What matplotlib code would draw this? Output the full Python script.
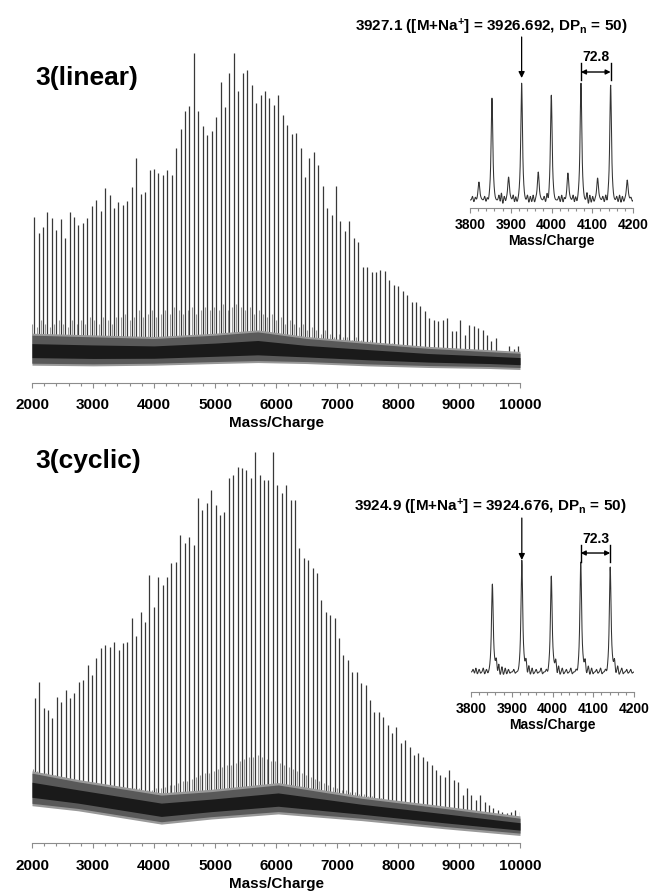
import numpy as np
import matplotlib
matplotlib.use('Agg')
import matplotlib.pyplot as plt

plt.rcParams['font.family'] = ['Liberation Sans', 'DejaVu Sans']
plt.rcParams['font.weight'] = 'bold'
plt.rcParams['mathtext.fontset'] = 'custom'
plt.rcParams['mathtext.rm'] = 'Liberation Sans:bold'
plt.rcParams['mathtext.it'] = 'Liberation Sans:bold'
plt.rcParams['mathtext.bf'] = 'Liberation Sans:bold'

# ---- 3(linear): main series, DP 24 .. 133, repeat unit 72.8
lin_first = 2033.9
lin_step = 72.8
lin_heights = [50.2, 45.5, 47.2, 52.0, 50.0, 46.5, 49.8, 44.1, 51.8, 50.3,
               48.0, 48.5, 50.0, 53.7, 55.6, 52.3, 59.1, 56.9, 53.0, 54.8,
               54.0, 55.1, 59.3, 68.2, 57.3, 57.8, 64.6, 64.8, 63.6, 63.1,
               64.6, 63.1, 71.2, 77.1, 82.5, 84.1, 100.0, 82.5, 77.8, 75.3,
               76.3, 80.8, 91.4, 83.8, 93.9, 100.0, 88.4, 93.9, 94.9, 90.4,
               84.8, 87.2, 88.6, 86.4, 84.3, 87.2, 81.3, 78.3, 75.5, 75.8,
               71.4, 62.6, 68.2, 70.2, 66.2, 59.6, 53.0, 51.0, 59.6, 49.0,
               46.0, 49.2, 43.9, 42.9, 35.1, 35.1, 33.8, 33.8, 34.3, 34.0,
               31.3, 29.8, 29.3, 27.8, 26.8, 24.7, 24.7, 23.2, 21.7, 19.7,
               19.2, 18.7, 19.2, 19.7, 15.7, 15.7, 19.2, 14.6, 17.7, 17.2,
               16.7, 16.2, 14.6, 12.6, 13.6, 9.8, 9.6, 11.1, 10.4, 11.1]
# minor series (32 Da below each main peak)
lin_minor = [18, 17, 19, 18, 17, 18, 19, 18, 17, 19, 18, 19, 18, 20, 19, 18, 20, 19, 18, 20,
             20, 21, 19, 20, 22, 20, 21, 22, 20, 21, 22, 21, 23, 22, 21, 22, 23, 21, 22, 23,
             22, 23, 22, 24, 22, 23, 24, 23, 22, 23, 21, 22, 21, 20, 21, 19, 20, 18, 19, 18,
             17, 18, 16, 17, 16, 15, 16, 15, 14, 15, 14, 14, 13, 14, 13, 12, 13, 12, 12, 12,
             11.5, 12, 11, 11.5, 11, 11, 10.5, 11, 10.5, 10, 10.5, 10, 10, 10, 9.5, 10, 9.5, 9.5, 9, 9.5,
             9, 9, 9, 8.5, 9, 8.5, 8.5, 8, 8.5, 8]
lin_band_mz = [2000, 3000, 4000, 5000, 5700, 6500, 7500, 8500, 9500, 10000]
lin_band_lo = [6.0, 5.8, 6.0, 6.5, 6.8, 6.5, 5.8, 5.3, 5.0, 4.7]
lin_band_hi = [14.5, 14.0, 13.5, 14.5, 15.5, 13.5, 12.0, 10.5, 9.5, 9.0]

# ---- 3(cyclic): main series, repeat unit 72.3
cyc_first = 2044.9
cyc_step = 72.3
cyc_heights = [37.0, 41.3, 34.5, 34.0, 31.9, 37.4, 36.2, 39.1, 37.0, 38.3,
               41.3, 41.7, 45.5, 43.0, 47.2, 49.8, 50.6, 50.2, 51.5, 49.4,
               51.1, 51.5, 57.4, 52.8, 59.1, 56.6, 68.5, 60.4, 68.1, 66.0,
               68.1, 71.5, 71.9, 78.7, 76.6, 78.3, 76.2, 88.1, 85.1, 86.8,
               90.2, 86.4, 83.8, 84.7, 93.2, 94.0, 96.2, 95.7, 95.3, 93.2,
               100.0, 94.0, 92.8, 92.8, 100.0, 91.5, 89.4, 91.5, 87.7, 87.7,
               75.3, 72.8, 72.3, 70.2, 68.9, 62.1, 59.1, 58.3, 57.4, 52.3,
               48.1, 46.8, 43.8, 43.8, 40.9, 40.4, 36.6, 33.6, 33.6, 32.3,
               30.2, 28.1, 29.8, 25.5, 26.4, 24.7, 22.6, 23.0, 22.1, 20.9,
               20.0, 18.7, 17.4, 17.0, 18.7, 16.2, 15.7, 12.3, 14.0, 12.3,
               11.1, 12.3, 10.6, 9.8, 8.9, 8.5, 8.1, 7.7, 8.1, 8.5, 8.1]
cyc_minor = [19, 18.5, 18, 18, 17.5, 17.5, 17, 17, 16.5, 16.5, 16, 16, 15.5, 15.5, 15,
             15, 15, 14.5, 14.5, 14.5, 14, 14, 14, 14, 14, 13.5, 13.5, 13.5, 14, 14,
             14.5, 15, 15, 15.5, 16, 16, 16.5, 17, 17.5, 18, 18, 18.5, 19, 19.5, 20,
             20, 20.5, 21, 21.5, 22, 22, 22.5, 22, 21.5, 21, 21, 20.5, 20, 19.5, 19,
             18.5, 18, 17.5, 17, 16.5, 16, 15.5, 15, 14.5, 14, 13.5, 13.5, 13, 13, 12.5,
             12.5, 12, 12, 11.5, 11.5, 11, 11, 10.5, 10.5, 10, 10, 10, 9.5, 9.5, 9.5,
             9, 9, 9, 8.5, 8.5, 8.5, 8, 8, 8, 7.5, 7.5, 7.5, 7, 7, 7, 7, 6.5, 6.5, 6.5, 6.5, 6.5]
cyc_band_mz = [2000, 2755, 4120, 4940, 6035, 7400, 8770, 10000]
cyc_band_lo = [10.2, 8.9, 5.5, 6.8, 8.1, 6.4, 4.3, 2.6]
cyc_band_hi = [17.9, 15.7, 12.3, 13.2, 14.9, 11.5, 8.9, 6.4]

# ---- zoomed windows 3800-4200
lin_zoom_mz = [3821.9, 3853.9, 3894.7, 3926.7, 3967.5, 3999.5, 4040.3, 4072.3, 4113.1, 4145.1, 4185.9]
lin_zoom_apex = [20.8, 88.0, 24.8, 100.0, 28.8, 90.4, 28.0, 100.0, 24.0, 98.4, 22.4]
lin_zoom_base = 6.4
lin_noise_mz = [3806, 3813, 3836, 3842, 3871, 3877, 3884, 3906, 3912, 3941, 3948, 3955,
                3982, 3989, 4018, 4025, 4031, 4053, 4059, 4087, 4094, 4101, 4126, 4133,
                4160, 4167, 4174, 4195]
lin_noise_amp = [3, 2, 3, 2, 4, 6, 3, 4, 3, 4, 3, 4, 3, 5, 3, 4, 2, 4, 3, 6, 4, 3, 3, 4, 3, 4, 3, 2]

cyc_zoom_mz = [3852.4, 3924.7, 3997.0, 4069.3, 4141.6]
cyc_zoom_apex = [81.7, 100.0, 87.8, 98.5, 94.7]
cyc_zoom_base = 15.3
cyc_noise_mz = [3805, 3812, 3820, 3830, 3838, 3862, 3868, 3876, 3884, 3892, 3905, 3935,
                3942, 3950, 3960, 3972, 3985, 4008, 4015, 4024, 4034, 4045, 4058, 4080,
                4088, 4096, 4108, 4118, 4130, 4152, 4160, 4170, 4182, 4192]
cyc_noise_amp = [2, 3, 2, 3, 2, 6, 5, 4, 3, 2, 2, 6, 4, 3, 2, 3, 2, 6, 4, 3, 2, 3, 2, 6,
                 4, 3, 2, 3, 2, 6, 4, 3, 2, 2]


def spectrum(ax, first, step, heights, minor, band_mz, band_lo, band_hi, ymax):
    mz = first + step * np.arange(len(heights))
    mz_minor = mz - 32.0
    ok = mz_minor > 2000
    lo = np.interp(mz, band_mz, band_lo)
    lo_m = np.interp(mz_minor[ok], band_mz, band_lo)
    ax.vlines(mz_minor[ok], lo_m, np.array(minor)[ok], color='0.6', lw=0.8, zorder=1)
    ax.vlines(mz, lo, heights, color='0.22', lw=0.9, zorder=2)
    lo_a, hi_a = np.array(band_lo), np.array(band_hi)
    span = hi_a - lo_a
    ax.fill_between(band_mz, lo_a - 0.6, hi_a + 0.6, color='0.6', lw=0, zorder=3)
    ax.fill_between(band_mz, lo_a, hi_a, color='0.35', lw=0, zorder=4)
    ax.fill_between(band_mz, lo_a + 0.2 * span, hi_a - 0.3 * span, color='0.1', lw=0, zorder=5)
    style_axis(ax, 2000, 10000, 1000, 200, ymax, 11, 7.5, 3)


def style_axis(ax, x0, x1, major, minor, ymax, fs, pad, labelpad):
    ax.set_xlim(x0, x1)
    ax.set_ylim(0, ymax)
    for s in ['top', 'left', 'right']:
        ax.spines[s].set_visible(False)
    ax.spines['bottom'].set_color('0.55')
    ax.spines['bottom'].set_linewidth(0.8)
    ax.set_yticks([])
    ax.set_xticks(np.arange(x0, x1 + 1, major))
    ax.set_xticks(np.arange(x0, x1 + 1, minor), minor=True)
    ax.tick_params(axis='x', which='both', color='0.55', width=0.8, labelsize=fs, pad=pad)
    ax.tick_params(axis='x', which='major', length=3.5)
    ax.tick_params(axis='x', which='minor', length=2.5)
    ax.set_xlabel('Mass/Charge', fontsize=fs, fontweight='bold', labelpad=labelpad)
    ax.patch.set_alpha(0)


def zoom_trace(ax, peak_mz, apex, base, noise_mz, noise_amp, shoulder, ymax):
    x = np.linspace(3800, 4200, 1600)
    y = np.full_like(x, base)
    for c, a in zip(peak_mz, apex):
        h = a - base
        y += 0.6 * h * np.exp(-0.5 * ((x - c) / 1.6) ** 2)
        y += 0.4 * h * np.exp(-0.5 * ((x - c) / 3.6) ** 2)
        y += shoulder * np.exp(-0.5 * ((x - c - 9) / 5) ** 2)
    for c, a in zip(noise_mz, noise_amp):
        y += a * np.exp(-0.5 * ((x - c) / 1.4) ** 2) - 0.5 * a * np.exp(-0.5 * ((x - c - 3.5) / 1.4) ** 2)
    ax.plot(x, y, color='0.2', lw=0.75)
    style_axis(ax, 3800, 4200, 100, 20, ymax, 10, 3.5, 2)


fig = plt.figure(figsize=(6.54, 8.92), dpi=100)
W, H = 654.0, 892.0


def add_axes(x0, x1, ytop, ybot):
    return fig.add_axes([x0 / W, 1 - ybot / H, (x1 - x0) / W, (ybot - ytop) / H])


ax1 = add_axes(32, 520, 45, 383)
spectrum(ax1, lin_first, lin_step, lin_heights, lin_minor,
         lin_band_mz, lin_band_lo, lin_band_hi, 102.5)
ax2 = add_axes(32, 520, 447.7, 843.3)
spectrum(ax2, cyc_first, cyc_step, cyc_heights, cyc_minor,
         cyc_band_mz, cyc_band_lo, cyc_band_hi, 101.0)

in1 = add_axes(470, 633, 75, 208)
zoom_trace(in1, lin_zoom_mz, lin_zoom_apex, lin_zoom_base, lin_noise_mz, lin_noise_amp, 0.0, 106.4)
in2 = add_axes(471, 634, 550, 692)
zoom_trace(in2, cyc_zoom_mz, cyc_zoom_apex, cyc_zoom_base, cyc_noise_mz, cyc_noise_amp, 4.0, 108.4)

fig.text(35 / W, 1 - 78 / H, '3(linear)', fontsize=19, fontweight='bold', va='center', ha='left')
fig.text(35 / W, 1 - 461 / H, '3(cyclic)', fontsize=19, fontweight='bold', va='center', ha='left')


def annotate_zoom(ax, target, text, text_y, arr_top, arr_tip, pair, gap_text, dy, tick_lo, tick_hi, text_x):
    ax.text(text_x, text_y, text, fontsize=11, fontweight='bold', ha='center', va='center', clip_on=False)
    ax.annotate('', xy=(target, arr_tip), xytext=(target, arr_top),
                arrowprops=dict(arrowstyle='-|>', color='black', lw=0.9,
                                mutation_scale=9, shrinkA=0, shrinkB=0),
                annotation_clip=False)
    ax.annotate('', xy=(pair[0], dy), xytext=(pair[1], dy),
                arrowprops=dict(arrowstyle='<|-|>', color='black', lw=1.0,
                                mutation_scale=7, shrinkA=0, shrinkB=0),
                annotation_clip=False)
    for p in pair:
        ax.plot([p, p], [tick_lo, tick_hi], color='black', lw=1.0, clip_on=False)
    ax.text((pair[0] + pair[1]) / 2, dy + (tick_hi - dy) + 4.5, gap_text, fontsize=10,
            fontweight='bold', ha='center', va='center', clip_on=False)


annotate_zoom(in1, 3926.7, r'3927.1 ([M+Na$^{+}$] = 3926.692, DP$_{n}$ = 50)',
              144.8, 136.8, 104.0, (4072.3, 4145.1), '72.8', 108.8, 102.4, 116.0, 3853.0)
annotate_zoom(in2, 3924.7, r'3924.9 ([M+Na$^{+}$] = 3924.676, DP$_{n}$ = 50)',
              141.2, 132.8, 100.8, (4069.3, 4141.6), '72.3', 106.1, 99.2, 112.2, 3848.0)

fig.savefig('out.png', dpi=100)
